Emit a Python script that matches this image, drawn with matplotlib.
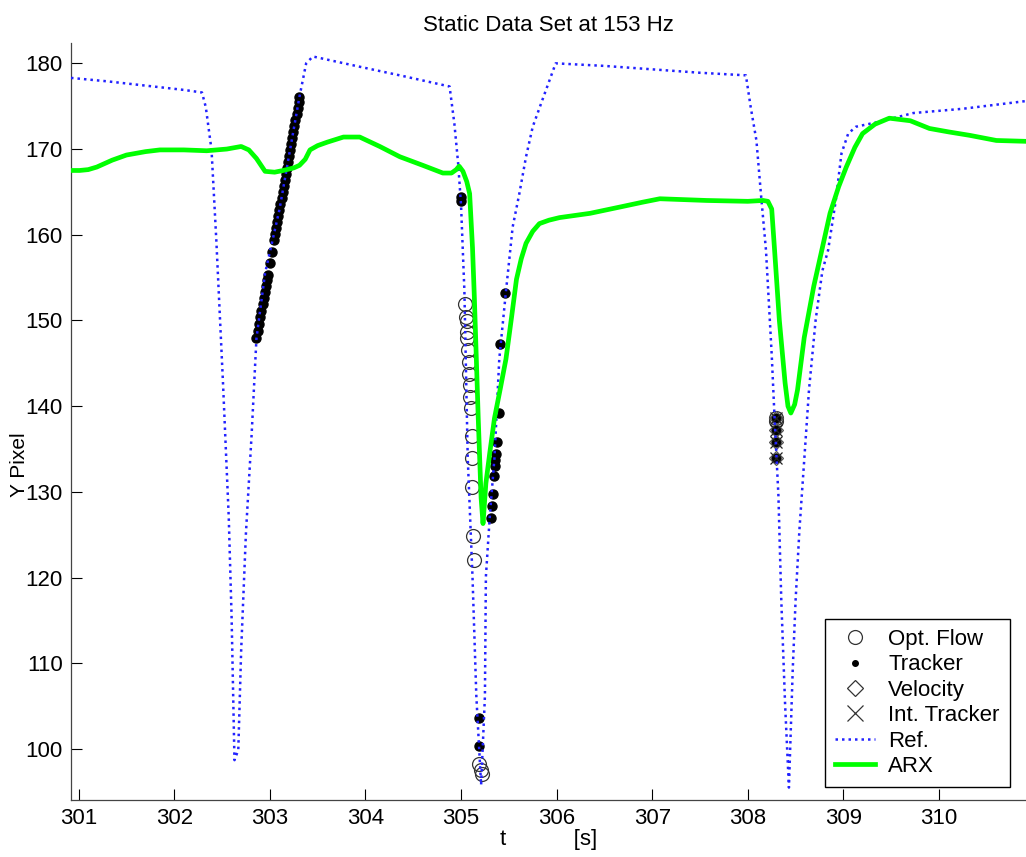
#!/usr/bin/env python3

import numpy as np
import matplotlib
matplotlib.use("Agg")
import matplotlib.pyplot as plt
from matplotlib.lines import Line2D

plt.rcParams["font.family"] = ["Liberation Sans", "DejaVu Sans"]

# reference signal (blue dotted)
ref_t = [300.92, 301.3, 301.7, 302.1, 302.29, 302.33, 302.39, 302.44, 302.51, 302.57,
         302.60, 302.63, 302.67, 302.70, 302.75, 302.81, 302.86, 302.95, 303.10, 303.31,
         303.38, 303.45, 303.9, 304.4, 304.88, 304.93, 304.97, 305.0, 305.035, 305.07,
         305.12, 305.16, 305.21, 305.25, 305.26, 305.30, 305.35, 305.40, 305.47, 305.54,
         305.61, 305.68, 305.75, 305.85, 305.99, 306.5, 307.0, 307.5, 307.98, 308.03,
         308.09, 308.14, 308.19, 308.25, 308.28, 308.32, 308.35, 308.39, 308.43, 308.47,
         308.50, 308.54, 308.59, 308.64, 308.71, 308.78, 308.84, 308.92, 308.98, 309.05,
         309.13, 309.38, 309.73, 310.25, 310.91]
ref_y = [178.3, 177.9, 177.4, 176.9, 176.6, 174.9, 169.9, 159.4, 142.7, 127.1,
         115.4, 98.7, 99.9, 111.5, 125.2, 136.8, 147.9, 155.5, 162.9, 176.1,
         180.0, 180.8, 179.7, 178.5, 177.3, 173.0, 168.3, 163.5, 153.5, 134.0,
         120.1, 106.2, 95.8, 106.2, 120.1, 127.0, 134.0, 145.5, 153.4, 160.9,
         164.8, 169.1, 172.6, 175.7, 180.0, 179.7, 179.3, 178.9, 178.6, 174.9,
         171.0, 164.4, 158.2, 146.0, 138.6, 129.6, 117.4, 105.2, 95.5, 109.3,
         117.4, 125.6, 133.7, 141.9, 150.1, 155.8, 158.2, 164.0, 169.5, 171.8,
         172.6, 173.2, 174.2, 174.7, 175.6]

# ARX model output (green)
arx_t = [300.92, 301.01, 301.1, 301.19, 301.35, 301.5, 301.7, 301.85, 302.1, 302.34,
         302.55, 302.70, 302.78, 302.86, 302.95, 303.05, 303.14, 303.25, 303.31, 303.37,
         303.42, 303.5, 303.6, 303.77, 303.94, 304.15, 304.36, 304.6, 304.81, 304.9,
         304.95, 304.98, 305.02, 305.06, 305.09, 305.12, 305.14, 305.18, 305.21, 305.23,
         305.26, 305.30, 305.35, 305.41, 305.47, 305.53, 305.58, 305.63, 305.68, 305.75,
         305.82, 305.92, 306.03, 306.35, 306.69, 306.9, 307.08, 307.57, 308.0, 308.16,
         308.21, 308.25, 308.28, 308.33, 308.39, 308.42, 308.45, 308.49, 308.52, 308.59,
         308.69, 308.78, 308.86, 308.95, 309.03, 309.12, 309.20, 309.33, 309.48, 309.7,
         309.90, 310.1, 310.32, 310.60, 310.91]
arx_y = [167.5, 167.5, 167.6, 167.9, 168.7, 169.3, 169.7, 169.9, 169.9, 169.8,
         170.0, 170.3, 169.9, 168.9, 167.4, 167.3, 167.5, 167.8, 168.1, 168.8,
         169.9, 170.4, 170.8, 171.4, 171.4, 170.3, 169.1, 168.1, 167.2, 167.2,
         167.6, 168.0, 167.4, 166.2, 164.8, 158.5, 152.5, 138.6, 129.3, 126.3,
         131.0, 134.5, 138.6, 142.0, 145.5, 150.5, 154.8, 157.2, 159.0, 160.4,
         161.3, 161.7, 162.0, 162.5, 163.3, 163.8, 164.2, 164.0, 163.9, 164.0,
         163.9, 163.0, 158.2, 150.0, 142.7, 140.0, 139.2, 140.2, 141.9, 148.0,
         154.0, 158.5, 162.5, 165.6, 167.9, 170.2, 171.8, 172.9, 173.6, 173.3,
         172.4, 172.0, 171.6, 171.0, 170.9]

# optical flow estimates (open circles)
flow_t = [305.04, 305.05, 305.06, 305.06, 305.065, 305.07, 305.08, 305.08, 305.09, 305.09,
          305.10, 305.11, 305.11, 305.11, 305.13, 305.14, 305.19, 305.21, 305.22,
          308.29, 308.29]
flow_y = [151.9, 150.4, 149.9, 148.7, 147.9, 146.6, 145.2, 143.8, 142.5, 141.1,
          139.8, 136.5, 133.9, 130.6, 124.9, 122.0, 98.3, 97.6, 97.1,
          138.6, 138.3]

# tracker (filled dots)
track_t = [302.86, 302.874, 302.887, 302.90, 302.911, 302.924, 302.935, 302.946, 302.958, 302.969,
           302.978, 303.0, 303.022, 303.044, 303.055, 303.066, 303.078, 303.089, 303.10, 303.111,
           303.122, 303.134, 303.145, 303.156, 303.167, 303.178, 303.19, 303.201, 303.212, 303.223,
           303.234, 303.246, 303.257, 303.268, 303.279, 303.29, 303.302, 303.31,
           305.0, 305.0, 305.19, 305.19, 305.31, 305.32, 305.33, 305.35, 305.36, 305.36,
           305.37, 305.38, 305.40, 305.41, 305.46,
           308.29, 308.29, 308.295, 308.295]
track_y = [147.9, 148.8, 149.6, 150.4, 151.1, 151.9, 152.6, 153.3, 154.0, 154.7,
           155.3, 156.7, 158.0, 159.4, 160.1, 160.8, 161.5, 162.2, 162.9, 163.6,
           164.3, 165.0, 165.7, 166.4, 167.1, 167.8, 168.5, 169.2, 169.9, 170.6,
           171.3, 172.0, 172.7, 173.4, 174.1, 174.8, 175.5, 176.1,
           164.4, 163.9, 103.6, 100.4, 127.0, 128.4, 129.7, 131.9, 133.0, 133.7,
           134.4, 135.8, 139.2, 147.2, 153.2,
           138.6, 137.2, 135.8, 133.9]

# velocity (open diamonds)
vel_t = [308.29, 308.29, 308.295, 308.295]
vel_y = [138.6, 137.2, 135.8, 133.9]

# integrated tracker (crosses)
itrack_t = [308.29, 308.29, 308.295, 308.295]
itrack_y = [138.6, 137.2, 135.8, 133.9]


def main():
    fig = plt.figure(figsize=(10.26, 8.57), dpi=100)
    ax = fig.add_axes([0.0692, 0.0665, 0.9308, 0.8833])

    ax.plot(flow_t, flow_y, linestyle="none", marker="o", markersize=10,
            markerfacecolor="none", markeredgecolor="#333333", markeredgewidth=0.9, zorder=2)
    ax.plot(track_t, track_y, linestyle="none", marker=".", markersize=13,
            color="black", zorder=3)
    ax.plot(vel_t, vel_y, linestyle="none", marker="D", markersize=7,
            markerfacecolor="none", markeredgecolor="#555555", markeredgewidth=0.9, zorder=3)
    ax.plot(itrack_t, itrack_y, linestyle="none", marker="x", markersize=8,
            color="#222222", markeredgewidth=0.9, zorder=3)
    ax.plot(ref_t, ref_y, linestyle=(0, (1, 1.6)), color="#2222ff", linewidth=1.8, zorder=4)
    ax.plot(arx_t, arx_y, linestyle="-", color="#00ff00", linewidth=3.4, zorder=5,
            solid_joinstyle="round")

    ax.set_xlim(300.92, 310.91)
    ax.set_ylim(94.05, 182.37)
    ax.set_xticks(np.arange(301, 311, 1))
    ax.set_yticks(np.arange(100, 181, 10))
    ax.tick_params(direction="in", length=8, width=0.8, labelsize=16, pad=6)
    ax.spines["top"].set_visible(False)
    ax.spines["right"].set_visible(False)
    for s in ["left", "bottom"]:
        ax.spines[s].set_linewidth(0.9)
        ax.spines[s].set_color("#444444")

    ax.set_title("Static Data Set at 153 Hz", fontsize=16, pad=9)
    ax.set_xlabel("t           [s]", fontsize=16, labelpad=0)
    ax.set_ylabel("Y Pixel", fontsize=15)
    ax.yaxis.set_label_coords(-0.044, 0.4425)

    handles = [
        Line2D([], [], linestyle="none", marker="o", markersize=10, markerfacecolor="none",
               markeredgecolor="#333333", markeredgewidth=0.9),
        Line2D([], [], linestyle="none", marker=".", markersize=8, color="black"),
        Line2D([], [], linestyle="none", marker="D", markersize=8, markerfacecolor="none",
               markeredgecolor="#333333", markeredgewidth=0.9),
        Line2D([], [], linestyle="none", marker="x", markersize=11, color="#333333",
               markeredgewidth=0.9),
        Line2D([], [], linestyle=(0, (1, 1.6)), color="#2222ff", linewidth=1.8),
        Line2D([], [], linestyle="-", color="#00ff00", linewidth=3.4),
    ]
    labels = ["Opt. Flow", "Tracker", "Velocity", "Int. Tracker", "Ref.", "ARX"]
    leg = ax.legend(handles, labels, loc="lower right", bbox_to_anchor=(0.983, 0.017),
                    fontsize=16, frameon=True, fancybox=False, framealpha=1,
                    edgecolor="black", handlelength=1.8, handletextpad=0.6,
                    labelspacing=0.2, borderpad=0.45, borderaxespad=0)
    leg.get_frame().set_linewidth(1.0)

    fig.savefig("out.png", dpi=100)


if __name__ == "__main__":
    main()
